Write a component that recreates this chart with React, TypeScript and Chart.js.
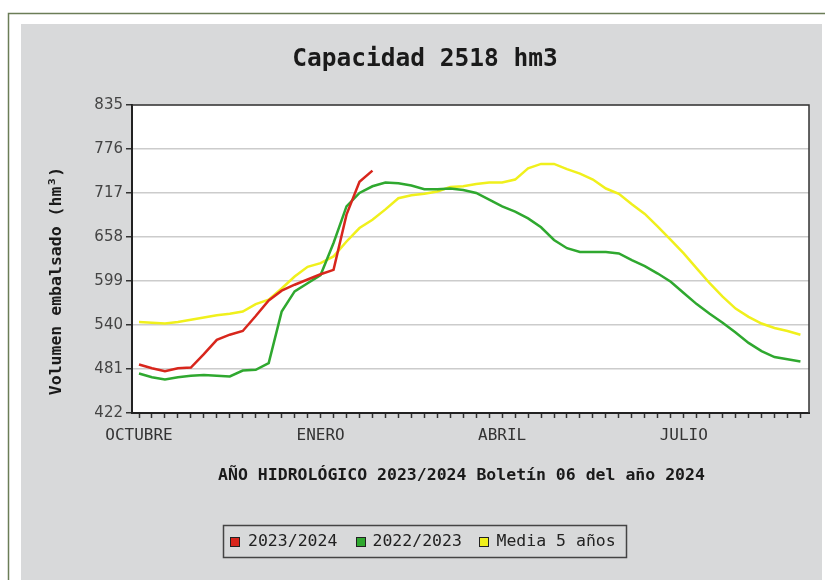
import { useEffect, useRef } from 'react';
import { Chart, registerables } from 'chart.js';

Chart.register(...registerables);

const chartTitle = 'Capacidad 2518 hm3';
const xTitle = 'AÑO HIDROLÓGICO 2023/2024 Boletín 06 del año 2024';
const yTitle = 'Volumen embalsado (hm³)';

const monthLabels = ['OCTUBRE', 'ENERO', 'ABRIL', 'JULIO'];
const monthWeeks = [0, 14, 28, 42];
const yTicks = [422, 481, 540, 599, 658, 717, 776, 835];

const seriesNames = ['2023/2024', '2022/2023', 'Media 5 años'];
const seriesColors = ['#d8261c', '#2fa82f', '#f0f01c'];

const serie2324 = [487, 482, 478, 482, 483, 501, 520, 527, 532, 552, 573, 586, 594, 601, 608, 614, 688, 732, 747];

const serie2223 = [
  475, 470, 467, 470, 472, 473, 472, 471, 479, 480, 489, 558, 585, 596, 607, 650, 699, 717, 726, 731,
  730, 727, 722, 722, 723, 721, 717, 708, 699, 692, 683, 671, 654, 643, 638, 638, 638, 636, 627, 619,
  609, 598, 583, 568, 555, 543, 530, 516, 505, 497, 494, 491,
];

const media5 = [
  544, 543, 542, 544, 547, 550, 553, 555, 558, 568, 574, 589, 605, 618, 623, 632, 652, 670, 681, 695,
  710, 714, 716, 719, 725, 726, 729, 731, 731, 735, 750, 756, 756, 749, 743, 735, 723, 716, 702, 689,
  672, 654, 636, 616, 596, 578, 562, 551, 542, 536, 532, 527,
];

const allSeries = [serie2324, serie2223, media5];

const toPoints = (arr: number[]) => arr.map((v, i) => ({ x: i, y: v }));

const decorPlugin = {
  id: 'decor',
  beforeDraw(chart: any) {
    const ctx = chart.ctx;
    const { left, top, right, bottom } = chart.chartArea;
    ctx.save();
    ctx.fillStyle = '#ffffff';
    ctx.fillRect(0, 0, chart.width, chart.height);
    ctx.strokeStyle = '#6b7d57';
    ctx.lineWidth = 1.5;
    ctx.strokeRect(8.5, 13.5, 1000, 1000);
    ctx.fillStyle = '#d8d9da';
    ctx.fillRect(21, 24, 801, 600);
    ctx.fillStyle = '#ffffff';
    ctx.fillRect(left, top, right - left, bottom - top);
    ctx.restore();
  },
  afterDraw(chart: any) {
    const ctx = chart.ctx;
    const { left, top, right, bottom } = chart.chartArea;
    ctx.save();
    // frame top / right
    ctx.strokeStyle = '#333';
    ctx.lineWidth = 1.5;
    ctx.beginPath();
    ctx.moveTo(left, top);
    ctx.lineTo(right, top);
    ctx.lineTo(right, bottom);
    ctx.stroke();

    // main title
    ctx.fillStyle = '#1a1a1a';
    ctx.textAlign = 'center';
    ctx.textBaseline = 'middle';
    ctx.font = 'bold 24.5px "DejaVu Sans Mono"';
    ctx.fillText(chartTitle, 425, 60);

    // x title
    ctx.font = 'bold 16.5px "DejaVu Sans Mono"';
    ctx.fillText(xTitle, 461.5, 476);

    // y title
    ctx.save();
    ctx.translate(57, 281);
    ctx.rotate(-Math.PI / 2);
    ctx.font = 'bold 16.5px "DejaVu Sans Mono"';
    ctx.fillText(yTitle, 0, 0);
    ctx.restore();

    // legend
    ctx.strokeStyle = '#444';
    ctx.lineWidth = 1.5;
    ctx.strokeRect(223.5, 525.5, 403, 32);
    const markerX = [230, 356, 479];
    const textX = [248, 372.5, 496.5];
    ctx.font = '16.5px "DejaVu Sans Mono"';
    ctx.textAlign = 'left';
    seriesNames.forEach((name, k) => {
      ctx.fillStyle = seriesColors[k];
      ctx.fillRect(markerX[k], 537, 10, 10);
      ctx.strokeStyle = '#222';
      ctx.lineWidth = 1;
      ctx.strokeRect(markerX[k] + 0.5, 537.5, 9, 9);
      ctx.fillStyle = '#222';
      ctx.fillText(name, textX[k], 542);
    });
    ctx.restore();
  },
};

export default function App() {
  const ref = useRef<HTMLCanvasElement | null>(null);

  useEffect(() => {
    if (!ref.current) return;
    const chart = new Chart(ref.current, {
      type: 'line',
      data: {
        datasets: allSeries.map((s, k) => ({
          label: seriesNames[k],
          data: toPoints(s),
          borderColor: seriesColors[k],
          backgroundColor: seriesColors[k],
          borderWidth: 2.5,
          pointRadius: 0,
          tension: 0,
          fill: false,
        })),
      },
      options: {
        responsive: false,
        animation: false,
        devicePixelRatio: 1,
        layout: { padding: { left: 0, top: 105, right: 16, bottom: 107 } },
        plugins: {
          legend: { display: false },
          title: { display: false },
          tooltip: { enabled: false },
        },
        scales: {
          x: {
            type: 'linear',
            min: -0.54,
            max: 51.66,
            afterFit: (s: any) => {
              s.height = 60;
            },
            afterBuildTicks: (s: any) => {
              s.ticks = media5.map((_, i) => ({ value: i }));
            },
            grid: {
              drawOnChartArea: false,
              drawTicks: true,
              tickLength: 5,
              tickColor: '#333',
              tickWidth: 1.5,
            },
            border: { color: '#222', width: 2 },
            ticks: {
              autoSkip: false,
              maxRotation: 0,
              minRotation: 0,
              includeBounds: false,
              padding: 8,
              color: '#333',
              font: { family: '"DejaVu Sans Mono"', size: 16 },
              callback: (v: any) => {
                const idx = monthWeeks.indexOf(Number(v));
                return idx >= 0 ? monthLabels[idx] : '';
              },
            },
          },
          y: {
            min: 422,
            max: 835,
            afterFit: (s: any) => {
              s.width = 132;
            },
            afterBuildTicks: (s: any) => {
              s.ticks = yTicks.map((v) => ({ value: v }));
            },
            grid: {
              color: '#cccccc',
              lineWidth: 1.5,
              tickColor: '#333',
              tickLength: 6,
              drawTicks: true,
            },
            border: { color: '#222', width: 2 },
            ticks: {
              padding: 3,
              color: '#444',
              font: { family: '"DejaVu Sans"', size: 15 },
            },
          },
        },
      },
      plugins: [decorPlugin],
    });
    return () => chart.destroy();
  }, []);

  return (
    <div style={{ position: 'absolute', left: 0, top: 0, width: 825, height: 580 }}>
      <canvas ref={ref} width={825} height={580} />
    </div>
  );
}
